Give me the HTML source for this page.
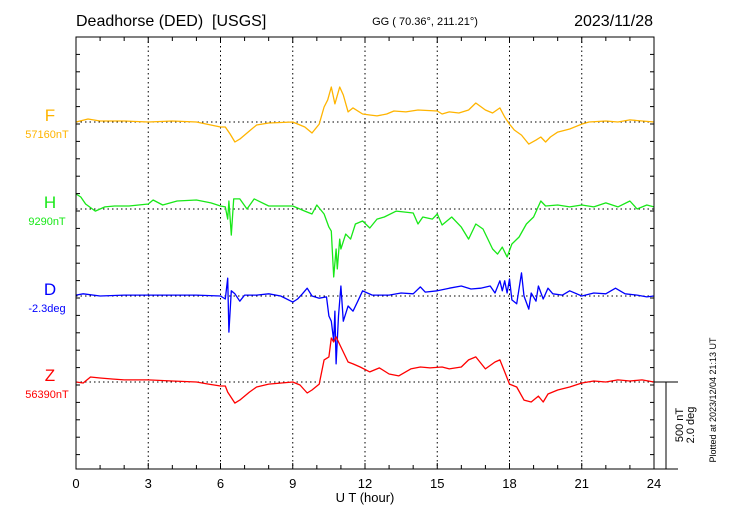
<!DOCTYPE html>
<html><head><meta charset="utf-8"><style>
body{margin:0;background:#fff;width:730px;height:520px;overflow:hidden}
svg{display:block;font-family:"Liberation Sans",Arial,sans-serif}
text{white-space:pre}
</style></head><body>
<svg id="chart" width="730" height="520" viewBox="0 0 730 520">
<text x="76" y="26" font-size="16" xml:space="preserve">Deadhorse (DED)  [USGS]</text>
<text x="425" y="25" font-size="11" text-anchor="middle">GG ( 70.36°, 211.21°)</text>
<text x="653" y="26" font-size="16" text-anchor="end">2023/11/28</text>
<g id="grid"></g>
<g id="series"></g>
<rect x="76" y="37" width="578" height="432" fill="none" stroke="#000" stroke-width="1"/>
<g id="axes"></g>
<text x="365" y="502" font-size="13" text-anchor="middle">U T (hour)</text>
<text transform="translate(683,425) rotate(-90)" font-size="11" text-anchor="middle"><tspan x="0" dy="0">500 nT</tspan><tspan x="0" dy="11">2.0 deg</tspan></text>
<text transform="translate(716,400) rotate(-90)" font-size="9" text-anchor="middle">Plotted at 2023/12/04 21:13 UT</text>
</svg>
<script>
const xTicks=[0,3,6,9,12,15,18,21,24];
const compNames=['F','H','D','Z'];
const compBaseLabels=['57160nT','9290nT','-2.3deg','56390nT'];
const compColors=['#ffb400','#18e818','#0000ff','#ff0000'];
const fT=[0,0.5,1,2,3,4,5,6,6.2,6.4,6.6,6.8,7.2,7.5,8,9,9.5,9.8,10.1,10.3,10.45,10.6,10.75,10.95,11.1,11.3,11.5,11.9,12.2,12.5,12.9,13.2,13.7,14.2,15,15.2,15.5,15.9,16.3,16.6,17,17.3,17.6,17.8,18,18.2,18.5,18.8,19.1,19.3,19.5,19.7,20,20.5,21,21.3,22,22.5,23,24];
const fV=[0,17,6,6,0,6,0,-29,-29,-69,-115,-98,-52,-17,-6,0,-29,-63,-12,86,127,201,104,201,155,58,81,46,40,35,46,63,58,69,63,46,58,52,69,109,69,52,81,29,-12,-46,-75,-127,-104,-86,-115,-86,-58,-40,-12,0,6,0,12,0];
const hT=[0,0.2,0.4,0.8,1.2,1.6,2.2,3,3.2,3.6,4.2,5,5.6,6,6.2,6.3,6.35,6.45,6.55,6.8,7.1,7.4,8,9,9.5,9.8,10,10.3,10.5,10.6,10.7,10.8,10.85,10.95,11.0,11.2,11.4,11.6,11.9,12.2,12.5,12.8,13.3,14,14.2,14.4,14.8,15,15.2,15.6,16,16.3,16.6,16.9,17.3,17.5,17.7,17.9,18.1,18.4,18.7,19,19.3,19.5,20,20.5,21,21.5,22,22.5,23,23.3,23.7,24];
const hV=[86,69,29,-12,12,17,17,29,52,23,46,52,35,17,12,-58,46,-150,58,58,0,58,17,17,-12,-29,23,-29,-104,-127,-391,-230,-345,-173,-230,-144,-173,-86,-69,-109,-58,-46,-12,-23,-86,-46,-58,-29,-92,-46,-104,-173,-86,-115,-230,-259,-219,-276,-201,-161,-86,-46,46,17,23,12,23,12,35,12,46,0,23,12];
const dT=[0,0.3,1,2,3,4,5,6,6.2,6.3,6.35,6.45,6.6,6.8,7,7.5,8,8.5,9,9.2,9.4,9.6,9.8,10.1,10.4,10.5,10.6,10.7,10.75,10.8,10.9,11.0,11.1,11.3,11.5,11.7,11.9,12.1,12.3,13,13.5,14,14.3,14.5,15,15.5,16,16.4,16.8,17.2,17.4,17.6,17.7,17.8,17.9,18.0,18.1,18.3,18.5,18.6,18.8,18.9,19.1,19.2,19.4,19.6,19.8,20.2,20.5,21,21.5,22,22.4,22.8,23.3,23.7,24];
const dV=[0.02,0.05,0,0.02,0.02,0.02,0.02,0,-0.07,0.41,-0.83,0.12,0.05,-0.12,0.02,0.02,0.05,0,-0.14,-0.07,0.05,0.18,0,-0.05,-0.02,-0.46,-0.58,-1.03,-0.35,-1.56,-0.46,0.23,-0.58,-0.23,-0.35,-0.12,0.12,0.07,0.02,0.02,0.07,0.05,0.21,0.09,0.12,0.18,0.23,0.16,0.18,0.23,0.07,0.35,0.12,0.35,0.07,0.39,-0.09,-0.18,0.53,0,-0.3,0.07,-0.12,0.23,-0.07,0.18,0.05,0.02,0.12,0,0.07,0.05,0.18,0.05,0.02,-0.02,0];
const zT=[0,0.3,0.6,1,1.5,2,3,4,5,5.5,6,6.2,6.3,6.6,6.8,7.2,7.5,8,9,9.3,9.6,9.8,10.1,10.3,10.5,10.6,10.7,10.8,11.0,11.3,11.5,11.8,12.2,12.6,13,13.4,13.9,14.3,14.7,15.2,15.5,16,16.3,16.6,17,17.4,17.6,17.8,18,18.3,18.6,18.9,19.2,19.4,19.6,20,20.5,21,21.5,22,22.5,23,23.5,24];
const zV=[0,-6,29,23,17,12,12,6,0,-12,-23,-23,-58,-121,-104,-58,-29,-12,0,-17,-63,-46,-12,127,144,253,230,259,201,115,104,86,58,81,46,35,75,86,81,86,75,86,127,144,75,115,127,58,-12,-29,-104,-115,-81,-115,-69,-46,-29,-6,6,0,12,6,12,0];

const NS='http://www.w3.org/2000/svg';
const X0=76,X1=654,Y0=37,Y1=469;
const baseY=[122,209,296,382];
const pxPerUnit=[87/500,87/500,87/2.0,87/500];
const xs=h=>X0+(X1-X0)*h/24;
const ys=(i,v)=>baseY[i]-v*pxPerUnit[i];
function mk(tag,attrs,parent){const e=document.createElementNS(NS,tag);for(const k in attrs)e.setAttribute(k,attrs[k]);parent.appendChild(e);return e;}
const grid=document.getElementById('grid'),axes=document.getElementById('axes'),ser=document.getElementById('series');
xTicks.forEach((h,i)=>{
  if(i>0&&i<xTicks.length-1){const l=mk('line',{x1:xs(h),x2:xs(h),y1:Y0,y2:Y1,stroke:'#000','stroke-dasharray':'1.5,3','stroke-width':1},grid);
  
  }
  const t=mk('text',{x:xs(h),y:488,'font-size':13,'text-anchor':'middle'},axes);t.textContent=h;
  
  
});
for(let h=1;h<24;h++){const len=(h%3===0)?6:4;
  mk('line',{x1:xs(h),x2:xs(h),y1:Y0,y2:Y0+len,stroke:'#000'},axes);
  mk('line',{x1:xs(h),x2:xs(h),y1:Y1,y2:Y1-len,stroke:'#000'},axes);}
for(let k=0;k<25;k++){const y=Y0+k*87/5;if(y>Y1)break;
  mk('line',{x1:X0,x2:X0+4,y1:y,y2:y,stroke:'#000'},axes);
  mk('line',{x1:X1-4,x2:X1,y1:y,y2:y,stroke:'#000'},axes);}
baseY.forEach((y,i)=>{const l=mk('line',{x1:X0,x2:X1,y1:y,y2:y,stroke:'#000','stroke-dasharray':'1.5,3'},grid);
  
  
  const n=mk('text',{x:50,y:y-1,'font-size':17,'text-anchor':'middle',fill:compColors[i]},axes);n.textContent=compNames[i];
  
  
  const b=mk('text',{x:47,y:y+16,'font-size':11,'text-anchor':'middle',fill:compColors[i]},axes);b.textContent=compBaseLabels[i];
  
  
});
mk('line',{x1:X1,x2:678,y1:baseY[3],y2:baseY[3],stroke:'#000'},axes);
mk('line',{x1:X1,x2:678,y1:Y1,y2:Y1,stroke:'#000'},axes);
const sb=mk('line',{x1:666,x2:666,y1:baseY[3],y2:Y1,stroke:'#000'},axes);


const data=[[fT,fV],[hT,hV],[dT,dV],[zT,zV]];
data.forEach((d,i)=>{const pts=d[0].map((t,j)=>xs(t).toFixed(1)+','+ys(i,d[1][j]).toFixed(1)).join(' ');
  const p=mk('polyline',{points:pts,fill:'none',stroke:compColors[i],'stroke-width':1.3,'stroke-linejoin':'round'},ser);
  
  
});
</script>
</body></html>
